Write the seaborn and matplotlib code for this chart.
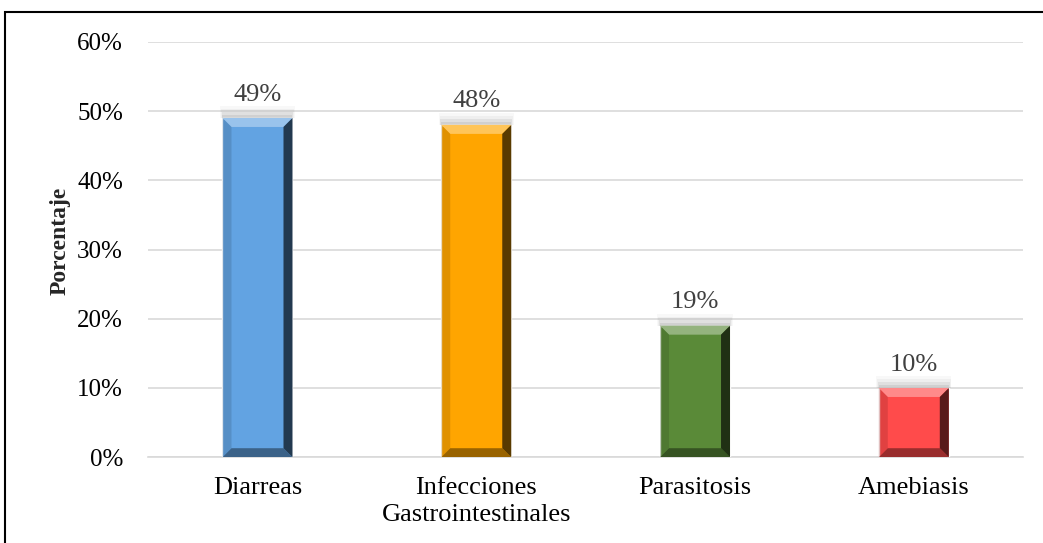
import matplotlib
matplotlib.use("Agg")
import matplotlib.pyplot as plt
from matplotlib.patches import Polygon, Rectangle
from matplotlib.ticker import PercentFormatter
import matplotlib.colors as mcolors
import seaborn as sns
import pandas as pd

categories = ["Diarreas", "Infecciones\nGastrointestinales", "Parasitosis", "Amebiasis"]
values = [0.49, 0.48, 0.19, 0.10]
colors = ["#62A3E2", "#FFA500", "#5A8A38", "#FF4B4B"]

df = pd.DataFrame({"categoria": categories, "porcentaje": values})

sns.set_style("white")
plt.rcParams["font.family"] = ["Liberation Serif", "DejaVu Serif"]

fig = plt.figure(figsize=(10.43, 5.43), dpi=100)
ax = fig.add_axes([0.142, 0.158, 0.839, 0.765])

sns.barplot(data=df, x="categoria", y="porcentaje", hue="categoria",
            palette=colors, saturation=1, width=0.32, legend=False, ax=ax, zorder=3)

ax.set_ylim(0, 0.6)
ax.set_yticks([0, 0.1, 0.2, 0.3, 0.4, 0.5, 0.6])
ax.yaxis.set_major_formatter(PercentFormatter(1.0, decimals=0))
ax.grid(axis="y", color="#D9D9D9", linewidth=1.2, zorder=0)
ax.set_axisbelow(True)
for s in ["top", "right", "left"]:
    ax.spines[s].set_visible(False)
ax.spines["bottom"].set_color("#D9D9D9")
ax.spines["bottom"].set_linewidth(1.2)
ax.tick_params(axis="y", length=0, labelsize=18, colors="black", pad=18)
ax.tick_params(axis="x", length=0, labelsize=19, colors="black", pad=14)
for lab in ax.get_xticklabels():
    lab.set_linespacing(1.3)
ax.set_xlabel("")
ax.set_ylabel("Porcentaje", fontsize=17, fontweight="bold")
ax.yaxis.set_label_coords(-0.088, 0.52)

# bevel look on each bar
fig.canvas.draw()
px_x = ax.transData.transform((1, 0))[0] - ax.transData.transform((0, 0))[0]
px_y = ax.transData.transform((0, 1))[1] - ax.transData.transform((0, 0))[1]
bx = 9 / px_x
by = 9 / px_y
for bar, c in zip(ax.patches, colors):
    x0 = bar.get_x()
    w = bar.get_width()
    h = bar.get_height()
    x1 = x0 + w
    rgb = mcolors.to_rgb(c)
    light = tuple(min(1, v + (1 - v) * 0.35) for v in rgb)
    dark = tuple(v * 0.6 for v in rgb)
    darker = tuple(v * 0.35 for v in rgb)
    # soft shadow above the bar
    for k, a in enumerate([0.16, 0.12, 0.08, 0.05]):
        ax.add_patch(Rectangle((x0 - 0.004 * k, h), w + 0.008 * k, (k + 1) * 3 / px_y,
                               color="gray", alpha=a, lw=0, zorder=2))
    ax.add_patch(Polygon([(x0, h), (x1, h), (x1 - bx, h - by), (x0 + bx, h - by)],
                         closed=True, color=light, lw=0, zorder=4))
    ax.add_patch(Polygon([(x0, 0), (x1, 0), (x1 - bx, by), (x0 + bx, by)],
                         closed=True, color=dark, lw=0, zorder=4))
    ax.add_patch(Polygon([(x1, 0), (x1, h), (x1 - bx, h - by), (x1 - bx, by)],
                         closed=True, color=darker, lw=0, zorder=4))
    ax.add_patch(Polygon([(x0, 0), (x0, h), (x0 + bx, h - by), (x0 + bx, by)],
                         closed=True, color=dark, alpha=0.3, lw=0, zorder=4))
    ax.text(bar.get_x() + w / 2, h + 0.018, f"{h * 100:.0f}%", ha="center", va="bottom",
            fontsize=19, color="#404040", zorder=5)

# outer frame (left and top edges visible)
fig.add_artist(Rectangle((5 / 1043, -0.05), 1.2, (543 - 12) / 543 + 0.05,
                         transform=fig.transFigure, fill=False, edgecolor="black",
                         linewidth=1.5))

fig.savefig("out.png", dpi=100)
